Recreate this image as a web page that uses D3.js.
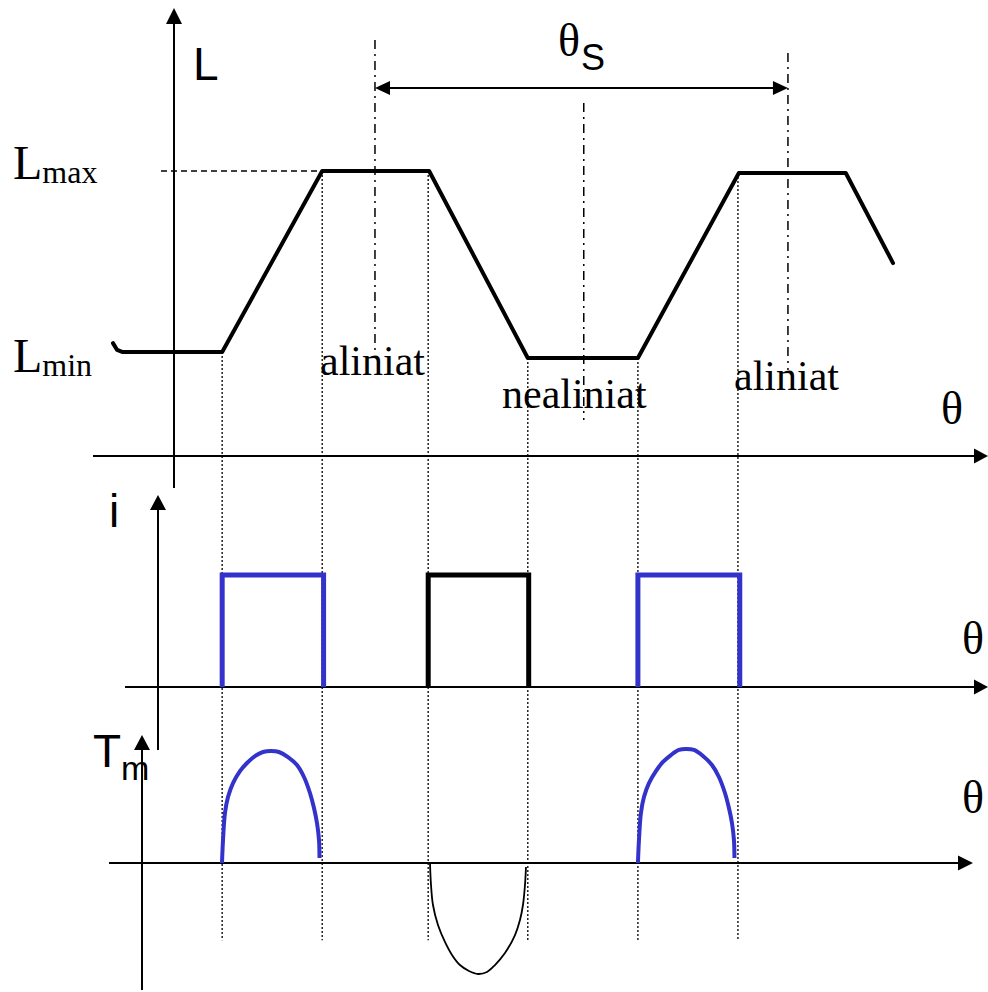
<!DOCTYPE html>
<html>
<head>
<meta charset="utf-8">
<script src="https://cdn.jsdelivr.net/npm/d3@7"></script>
<style>
  body { margin: 0; background: #fff; }
  svg { display: block; }
  .serif { font-family: "Liberation Serif", "Times New Roman", serif; }
  .sans { font-family: "Liberation Sans", Arial, sans-serif; }
</style>
</head>
<body>
<div id="chart"></div>
<script>
// inductance profile L(θ), θ in degrees, L normalised to Lmax
const thetaL = [-13.3, -12.4, -11.3, 10.5, 32.3, 55.6, 77.1, 101.1, 123.1, 146.4, 156.7];
const valuesL = [0.396, 0.372, 0.365, 0.365, 1.0, 1.0, 0.344, 0.344, 0.993, 0.993, 0.677];

// current pulses (start θ, end θ)
const pulseStart = [10.5, 55.4, 101.1];
const pulseEnd = [32.6, 77.3, 123.3];
const pulseColor = ["#3333cc", "#000000", "#3333cc"];

// torque lobes
const torque1Theta = [10.46, 10.68, 11.11, 11.77, 12.86, 14.38, 15.91, 17.65, 19.39, 21.14,
    22.88, 24.84, 26.80, 28.33, 29.63, 30.51, 31.16, 31.60, 31.71];
const torque1Val = [0, 0.205, 0.446, 0.589, 0.714, 0.821, 0.893, 0.955, 0.991, 1.0,
    0.991, 0.946, 0.875, 0.768, 0.625, 0.491, 0.357, 0.205, 0.045];
const torque2Theta = [55.79, 56.01, 56.44, 57.53, 59.05, 60.58, 62.32, 64.28, 66.25,
    68.21, 69.95, 72.13, 74.31, 75.40, 76.05, 76.49, 76.71];
const torque2Val = [0, -0.196, -0.375, -0.554, -0.705, -0.821, -0.911, -0.964, -0.991,
    -0.973, -0.911, -0.804, -0.643, -0.509, -0.375, -0.196, -0.036];
const torque3Theta = [101.11, 101.33, 101.76, 102.42, 103.51, 105.03, 106.56, 108.30, 110.04, 111.57,
    113.31, 115.28, 117.24, 118.76, 120.07, 120.94, 121.60, 122.03, 122.14];
const torque3Val = [0, 0.205, 0.446, 0.589, 0.714, 0.821, 0.902, 0.964, 1.009, 1.018,
    1.009, 0.955, 0.875, 0.768, 0.625, 0.491, 0.357, 0.205, 0.045];

// guide lines
const dottedTheta = [10.5, 32.3, 55.4, 77.1, 101.1, 122.9];
const dottedTop = [0.365, 1.0, 1.0, 0.344, 0.344, 0.993];
const dashDotTheta = [43.8, 89.3, 133.8];
const dashDotTop = [1.46, 1.239, 1.414];
const dashDotBottom = [0.372, 0.126, 0.302];

const width = 988, height = 992;

const svg = d3.select("#chart")
    .append("svg")
    .attr("width", width)
    .attr("height", height);

// scales
const x = d3.scaleLinear().domain([0, 175]).range([174, 977]);
const yL = d3.scaleLinear().domain([0, 1]).range([456, 171]);
const yI = d3.scaleLinear().domain([0, 1]).range([687, 575]);
const yT = d3.scaleLinear().domain([-1, 1]).range([975, 751]);

function arrowHead(tx, ty, dir, len, half) {
    // dir: "up", "right", "left"
    let p;
    if (dir === "up") p = [[tx, ty], [tx - half, ty + len], [tx + half, ty + len]];
    else if (dir === "right") p = [[tx, ty], [tx - len, ty - half], [tx - len, ty + half]];
    else p = [[tx, ty], [tx + len, ty - half], [tx + len, ty + half]];
    svg.append("path")
        .attr("d", "M" + p.map(d => d.join(",")).join("L") + "Z")
        .attr("fill", "#000");
}

function axisLine(x1, y1, x2, y2) {
    svg.append("line")
        .attr("x1", x1).attr("y1", y1)
        .attr("x2", x2).attr("y2", y2)
        .attr("stroke", "#000")
        .attr("stroke-width", 2);
}

// dotted vertical guides through all three panels
svg.selectAll(".dotted")
    .data(dottedTheta)
    .join("line")
    .attr("class", "dotted")
    .attr("x1", d => x(d)).attr("x2", d => x(d))
    .attr("y1", (d, i) => yL(dottedTop[i]))
    .attr("y2", yT(-0.69))
    .attr("stroke", "#222")
    .attr("stroke-width", 1.5)
    .attr("stroke-dasharray", "2,2");

// dash-dot lines for aligned / unaligned positions
svg.selectAll(".dashdot")
    .data(dashDotTheta)
    .join("line")
    .attr("class", "dashdot")
    .attr("x1", d => x(d)).attr("x2", d => x(d))
    .attr("y1", (d, i) => yL(dashDotTop[i]))
    .attr("y2", (d, i) => yL(dashDotBottom[i]))
    .attr("stroke", "#000")
    .attr("stroke-width", 1.5)
    .attr("stroke-dasharray", "9,5,2,5");

// Lmax dashed reference
svg.append("line")
    .attr("x1", 161).attr("x2", x(32.3))
    .attr("y1", yL(1)).attr("y2", yL(1))
    .attr("stroke", "#000")
    .attr("stroke-width", 1.5)
    .attr("stroke-dasharray", "6,4");

// ---- top panel axes
axisLine(174, 22, 174, 488);
arrowHead(174, 8, "up", 16, 8);
axisLine(93, 456, 976, 456);
arrowHead(988, 456, "right", 14, 7.5);

// θs dimension arrow
const yDim = yL(1.291);
axisLine(x(43.8) + 12, yDim, x(133.8) - 12, yDim);
arrowHead(x(43.8), yDim, "left", 15, 7);
arrowHead(x(133.8), yDim, "right", 15, 7);

// inductance curve
const lineL = d3.line()
    .x((d, i) => x(thetaL[i]))
    .y(d => yL(d));

svg.append("path")
    .attr("d", lineL(valuesL))
    .attr("fill", "none")
    .attr("stroke", "#000")
    .attr("stroke-width", 4)
    .attr("stroke-linejoin", "round")
    .attr("stroke-linecap", "round");

// ---- current panel axes
axisLine(158, 508, 158, 750);
arrowHead(158, 495, "up", 15, 8);
axisLine(125, 687, 976, 687);
arrowHead(988, 687, "right", 14, 7.5);

svg.selectAll(".pulse")
    .data(pulseStart)
    .join("path")
    .attr("class", "pulse")
    .attr("d", (d, i) => "M" + x(d) + "," + yI(0) +
        "L" + x(d) + "," + yI(1) +
        "L" + x(pulseEnd[i]) + "," + yI(1) +
        "L" + x(pulseEnd[i]) + "," + yI(0))
    .attr("fill", "none")
    .attr("stroke", (d, i) => pulseColor[i])
    .attr("stroke-width", 5);

// ---- torque panel axes
axisLine(142, 748, 142, 990);
arrowHead(142, 735, "up", 15, 8);
axisLine(109, 863, 960, 863);
arrowHead(973, 863, "right", 15, 7.5);

const lineT = d3.line().curve(d3.curveCatmullRom.alpha(0.5));

const lobes = [
    { th: torque1Theta, v: torque1Val, color: "#3333cc", w: 4 },
    { th: torque2Theta, v: torque2Val, color: "#000000", w: 1.8 },
    { th: torque3Theta, v: torque3Val, color: "#3333cc", w: 4 }
];
lobes.forEach(l => {
    svg.append("path")
        .attr("d", lineT(l.th.map((t, i) => [x(t), yT(l.v[i])])))
        .attr("fill", "none")
        .attr("stroke", l.color)
        .attr("stroke-width", l.w);
});

// ---- labels
function label(cls, tx, ty, size, str) {
    return svg.append("text")
        .attr("class", cls)
        .attr("x", tx).attr("y", ty)
        .style("font-size", size + "px")
        .text(str);
}

label("sans", 193, 80, 46, "L");

const lmax = label("serif", 13, 179, 48, "L");
lmax.append("tspan").attr("dy", 4).style("font-size", "32px").text("max");
const lmin = label("serif", 13, 372, 48, "L");
lmin.append("tspan").attr("dy", 4).style("font-size", "32px").text("min");

label("serif", 320, 375, 42, "aliniat");
label("serif", 502, 408, 42, "nealiniat");
label("serif", 734, 390, 42, "aliniat");

label("serif", 941, 424, 46, "θ");
label("serif", 558, 56, 46, "θ");
label("sans", 581, 70, 36, "S");

label("sans", 109, 527, 46, "i");
label("serif", 962, 654, 46, "θ");

label("sans", 93, 767, 46, "T");
label("sans", 121, 780, 34, "m");
label("serif", 962, 813, 46, "θ");
</script>
</body>
</html>
